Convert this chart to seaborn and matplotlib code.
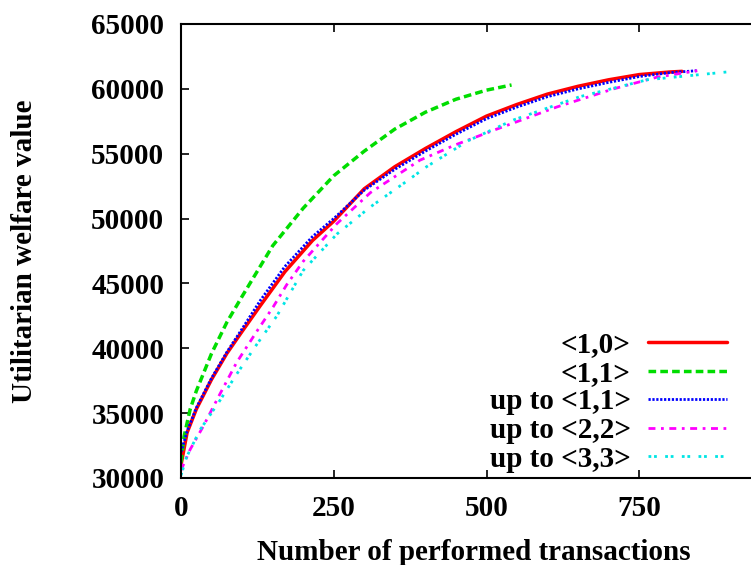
import numpy as np
import pandas as pd
import matplotlib
matplotlib.use('Agg')
import matplotlib.pyplot as plt
import seaborn as sns

# series
x_10 = [0, 10, 25, 50, 75, 100, 130, 170, 215, 250, 300, 350, 400, 450,
        500, 550, 600, 650, 700, 750, 800, 820]
y_10 = [31000, 33500, 35300, 37600, 39600, 41300, 43300, 45900, 48300,
        49800, 52300, 54000, 55400, 56700, 57900, 58800, 59600, 60200,
        60700, 61100, 61300, 61350]

x_11 = [0, 5, 15, 25, 50, 75, 100, 150, 200, 250, 300, 350, 400, 450,
        500, 541]
y_11 = [31200, 33200, 35300, 36700, 39600, 42000, 44000, 47900, 50800,
        53300, 55200, 56900, 58200, 59200, 59900, 60300]

x_up11 = [0, 10, 25, 50, 75, 100, 130, 170, 215, 250, 300, 350, 400, 450,
          500, 550, 600, 650, 700, 750, 800, 844]
y_up11 = [32000, 33600, 35400, 37700, 39700, 41500, 43700, 46300, 48600,
          50000, 52200, 53800, 55200, 56500, 57700, 58600, 59400, 60000,
          60500, 60950, 61250, 61400]

x_up22 = [0, 15, 36, 64, 91, 124, 151, 173, 200, 255, 310, 391, 450, 517,
          615, 708, 779, 845]
y_up22 = [30600, 32200, 33950, 36500, 38900, 41300, 43200, 44900, 46700,
          49600, 52000, 54500, 55700, 56900, 58600, 60000, 60900, 61400]

x_up33 = [0, 9, 31, 64, 91, 124, 157, 200, 255, 310, 370, 402, 470, 544,
          653, 763, 893]
y_up33 = [30200, 31600, 33700, 36000, 38000, 40300, 42500, 46000, 48800,
          50900, 52900, 54000, 56000, 57600, 59400, 60700, 61300]

labels = ['<1,0>', '<1,1>', 'up to <1,1>', 'up to <2,2>', 'up to <3,3>']
colors = ['#ff0000', '#00dd00', '#0000ff', '#ff00ff', '#00e5e5']
styles = ['-', (0, (2.2, 1.2)), (0, (0.8, 0.6)), (0, (2.5, 2, 1, 2)),
          (0, (1, 1, 1, 3))]
widths = [2.5, 2.5, 2.0, 2.0, 2.0]

sns.set_style('ticks')
plt.rcParams['font.family'] = ['Liberation Serif', 'DejaVu Serif']
plt.rcParams['font.weight'] = 'bold'
for key in ['text.color', 'axes.labelcolor', 'xtick.color', 'ytick.color',
            'axes.edgecolor']:
    plt.rcParams[key] = 'black'

fig = plt.figure(figsize=(7.51, 5.65), dpi=100)
# axes run past the right edge of the picture, as in the reference
ax = fig.add_axes([181 / 751, 1 - 478 / 565, 611 / 751, 454 / 565])

series = [(x_10, y_10), (x_11, y_11), (x_up11, y_up11),
          (x_up22, y_up22), (x_up33, y_up33)]
for (xs, ys), lab, c, ls, lw in zip(series, labels, colors, styles, widths):
    df = pd.DataFrame({'x': xs, 'y': ys})
    sns.lineplot(data=df, x='x', y='y', color=c, linestyle=ls, linewidth=lw,
                 label=lab, ax=ax)

ax.set_xlim(0, 1000)
ax.set_ylim(30000, 65000)
ax.set_xticks([0, 250, 500, 750])
ax.set_yticks(np.arange(30000, 65001, 5000))

fs = 21
ax.tick_params(direction='in', length=6, width=1.2, top=True, right=True,
               labelsize=fs, pad=12, colors='black')
for lab in ax.get_xticklabels() + ax.get_yticklabels():
    lab.set_fontweight('bold')
for sp in ax.spines.values():
    sp.set_linewidth(1.5)
    sp.set_color('black')

ax.set_xlabel('Number of performed transactions', fontsize=fs,
              fontweight='bold', va='center', color='black')
ax.set_ylabel('Utilitarian welfare value', fontsize=fs, fontweight='bold',
              va='center', color='black')
ax.xaxis.set_label_coords((474 - 181) / 611, -(553 - 478) / 454)
ax.yaxis.set_label_coords(-(181 - 25) / 611, 0.5)

leg = ax.legend(loc='lower right', bbox_to_anchor=((727 - 181) / 611, 0.012),
                frameon=False, markerfirst=False, borderpad=0,
                borderaxespad=0, handlelength=2.7, handletextpad=0.6,
                labelspacing=0.055, prop={'weight': 'bold', 'size': fs})
for t in leg.get_texts():
    t.set_color('black')

fig.savefig('out.png', dpi=100)
